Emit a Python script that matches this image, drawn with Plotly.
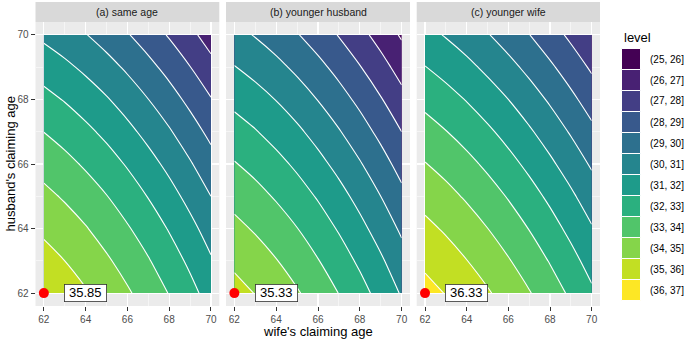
import plotly.graph_objects as go

# ---------------- data ----------------
wife_age = [62, 63, 64, 65, 66, 67, 68, 69, 70]
husband_age = [62, 63, 64, 65, 66, 67, 68, 69, 70]

panel_titles = ["(a) same age", "(b) younger husband", "(c) younger wife"]

# rows: husband's claiming age 62..70, columns: wife's claiming age 62..70
z_same_age = [
    [35.85, 35.49, 35.09, 34.63, 34.12, 33.57, 32.96, 32.30, 31.60],
    [35.36, 35.00, 34.59, 34.13, 33.63, 33.07, 32.46, 31.81, 31.10],
    [34.82, 34.46, 34.06, 33.60, 33.09, 32.54, 31.93, 31.28, 30.57],
    [34.25, 33.89, 33.48, 33.03, 32.52, 31.96, 31.36, 30.70, 30.00],
    [33.64, 33.28, 32.87, 32.42, 31.91, 31.35, 30.75, 30.09, 29.39],
    [32.99, 32.63, 32.22, 31.77, 31.26, 30.70, 30.10, 29.44, 28.74],
    [32.30, 31.94, 31.53, 31.08, 30.57, 30.01, 29.41, 28.75, 28.05],
    [31.57, 31.21, 30.80, 30.35, 29.84, 29.28, 28.68, 28.02, 27.32],
    [30.80, 30.44, 30.04, 29.58, 29.07, 28.52, 27.91, 27.26, 26.55],
]
z_younger_husband = [
    [35.33, 34.97, 34.56, 34.09, 33.56, 32.98, 32.35, 31.66, 30.91],
    [34.81, 34.45, 34.04, 33.57, 33.04, 32.46, 31.83, 31.14, 30.39],
    [34.26, 33.90, 33.49, 33.02, 32.49, 31.91, 31.27, 30.58, 29.84],
    [33.68, 33.32, 32.90, 32.43, 31.91, 31.33, 30.69, 30.00, 29.25],
    [33.06, 32.70, 32.29, 31.82, 31.29, 30.71, 30.08, 29.39, 28.64],
    [32.42, 32.06, 31.64, 31.18, 30.65, 30.07, 29.43, 28.74, 28.00],
    [31.74, 31.38, 30.97, 30.50, 29.97, 29.39, 28.76, 28.07, 27.32],
    [31.04, 30.68, 30.26, 29.79, 29.27, 28.69, 28.05, 27.36, 26.61],
    [30.30, 29.94, 29.53, 29.06, 28.53, 27.95, 27.31, 26.62, 25.88],
]
z_younger_wife = [
    [36.33, 35.96, 35.55, 35.10, 34.60, 34.06, 33.47, 32.84, 32.16],
    [35.80, 35.43, 35.02, 34.57, 34.07, 33.53, 32.94, 32.31, 31.63],
    [35.24, 34.88, 34.47, 34.01, 33.51, 32.97, 32.38, 31.75, 31.08],
    [34.66, 34.29, 33.88, 33.43, 32.93, 32.38, 31.80, 31.17, 30.49],
    [34.04, 33.68, 33.27, 32.81, 32.31, 31.77, 31.18, 30.55, 29.88],
    [33.40, 33.03, 32.62, 32.17, 31.67, 31.13, 30.54, 29.91, 29.23],
    [32.73, 32.36, 31.95, 31.49, 31.00, 30.45, 29.87, 29.23, 28.56],
    [32.03, 31.66, 31.25, 30.79, 30.29, 29.75, 29.16, 28.53, 27.86],
    [31.30, 30.93, 30.52, 30.06, 29.56, 29.02, 28.43, 27.80, 27.13],
]
panel_z = [z_same_age, z_younger_husband, z_younger_wife]

point_values = ["35.85", "35.33", "36.33"]
label_nudge = 2

level_breaks = [25, 26, 27, 28, 29, 30, 31, 32, 33, 34, 35, 36, 37]
level_labels = ["(25, 26]", "(26, 27]", "(27, 28]", "(28, 29]", "(29, 30]", "(30, 31]",
                "(31, 32]", "(32, 33]", "(33, 34]", "(34, 35]", "(35, 36]", "(36, 37]"]
level_colors = ["#440154", "#482173", "#433E85", "#38598C", "#2D708E", "#25858E",
                "#1E9B8A", "#2BB07F", "#51C56A", "#85D54A", "#C2DF23", "#FDE725"]

tick_vals = [62, 64, 66, 68, 70]
minor_vals = [63, 65, 67, 69]

# ---------------- layout constants ----------------
W, H = 685, 341
FONT = "Liberation Sans, Arial, Helvetica, sans-serif"
panel_px = [(35.5, 219.3), (226.0, 410.0), (416.7, 600.0)]
y_top_px, y_bot_px = 22.0, 306.0
strip_top_px = 2.0

def px_x(p):
    return p / W

def px_y(p):
    return 1 - p / H

# stepped colour scale (contour fill samples each band inside [L, L+0.5])
n = len(level_colors)
colorscale = []
for i, c in enumerate(level_colors):
    lo = 0 if i == 0 else (i + 0.25) / (n + 1)
    hi = 1 if i == n - 1 else (i + 1.25) / (n + 1)
    colorscale += [[lo, c], [hi, c]]

fig = go.Figure()
annotations = []
shapes = []

for k in range(3):
    xa = "x" if k == 0 else f"x{k+1}"
    ya = "y" if k == 0 else f"y{k+1}"
    fig.add_trace(go.Contour(
        x=wife_age, y=husband_age, z=panel_z[k],
        xaxis=xa, yaxis=ya,
        contours=dict(start=level_breaks[0], end=level_breaks[-1],
                      size=1, coloring="fill", showlines=True),
        colorscale=colorscale, showscale=False,
        line=dict(color="white", width=1.1, smoothing=1),
        hoverinfo="skip",
    ))
    fig.add_trace(go.Scatter(
        x=[wife_age[0]], y=[husband_age[0]], xaxis=xa, yaxis=ya,
        mode="markers", marker=dict(color="#FF0000", size=10),
        cliponaxis=False, showlegend=False, hoverinfo="skip",
    ))
    annotations.append(dict(
        x=wife_age[0] + label_nudge, y=husband_age[0], xref=xa, yref=ya,
        text=point_values[k], showarrow=False,
        font=dict(family=FONT, size=13, color="black"),
        width=37, height=12,
        bgcolor="white", bordercolor="#333333", borderwidth=0.8, borderpad=2,
    ))
    x0, x1 = panel_px[k]
    # strip
    shapes.append(dict(type="rect", xref="paper", yref="paper",
                       x0=px_x(x0), x1=px_x(x1), y0=px_y(y_top_px), y1=px_y(strip_top_px),
                       fillcolor="#D9D9D9", line=dict(width=0), layer="below"))
    annotations.append(dict(
        x=px_x((x0 + x1) / 2), y=px_y((y_top_px + strip_top_px) / 2),
        xref="paper", yref="paper", text=panel_titles[k], showarrow=False,
        font=dict(family=FONT, size=10.5, color="#1A1A1A"),
        xanchor="center", yanchor="middle",
    ))

    axis_common = dict(
        range=[61.6, 70.4], tickvals=tick_vals, showgrid=True,
        gridcolor="white", gridwidth=1.1, zeroline=False, showline=False,
        ticks="outside", ticklen=4, tickwidth=1, tickcolor="#333333",
        tickfont=dict(family=FONT, size=10, color="#4D4D4D"),
        minor=dict(tickvals=minor_vals, showgrid=True, gridcolor="white",
                   gridwidth=0.5, ticks=""),
        automargin=False, fixedrange=True,
    )
    xkey = "xaxis" if k == 0 else f"xaxis{k+1}"
    ykey = "yaxis" if k == 0 else f"yaxis{k+1}"
    fig.update_layout(**{
        xkey: dict(axis_common, domain=[px_x(x0), px_x(x1)], anchor=ya),
        ykey: dict(axis_common, domain=[px_y(y_bot_px), px_y(y_top_px)], anchor=xa,
                   showticklabels=(k == 0), ticks="outside" if k == 0 else ""),
    })

# axis titles
annotations.append(dict(
    x=px_x((panel_px[0][0] + panel_px[2][1]) / 2), y=px_y(331),
    xref="paper", yref="paper", text="wife's claiming age", showarrow=False,
    font=dict(family=FONT, size=13, color="black"), xanchor="center", yanchor="middle"))
annotations.append(dict(
    x=px_x(9.5), y=px_y((y_top_px + y_bot_px) / 2),
    xref="paper", yref="paper", text="husband's claiming age", showarrow=False,
    textangle=-90, font=dict(family=FONT, size=13, color="black"),
    xanchor="center", yanchor="middle"))

# legend (drawn manually to mimic ggplot guide)
leg_x0, leg_x1 = 621.5, 640.5
leg_top, key_h = 48.5, 21.0
annotations.append(dict(
    x=px_x(leg_x0), y=px_y(37), xref="paper", yref="paper", text="level",
    showarrow=False, font=dict(family=FONT, size=13, color="black"),
    xanchor="left", yanchor="middle"))
for i, (lab, col) in enumerate(zip(level_labels, level_colors)):
    t = leg_top + i * key_h
    shapes.append(dict(type="rect", xref="paper", yref="paper",
                       x0=px_x(leg_x0), x1=px_x(leg_x1),
                       y0=px_y(t + key_h), y1=px_y(t),
                       fillcolor=col, line=dict(color="white", width=1)))
    annotations.append(dict(
        x=px_x(leg_x1 + 7), y=px_y(t + key_h / 2), xref="paper", yref="paper",
        text=lab, showarrow=False, font=dict(family=FONT, size=10, color="black"),
        xanchor="left", yanchor="middle"))

fig.update_layout(
    width=W, height=H, margin=dict(l=0, r=0, t=0, b=0),
    paper_bgcolor="white", plot_bgcolor="#EBEBEB",
    showlegend=False, annotations=annotations, shapes=shapes,
    font=dict(family=FONT),
)

fig.write_html(
    "out.html",
    config={"displayModeBar": False, "staticPlot": True},
    post_script="document.body.style.margin='0';document.body.style.padding='0';",
)
